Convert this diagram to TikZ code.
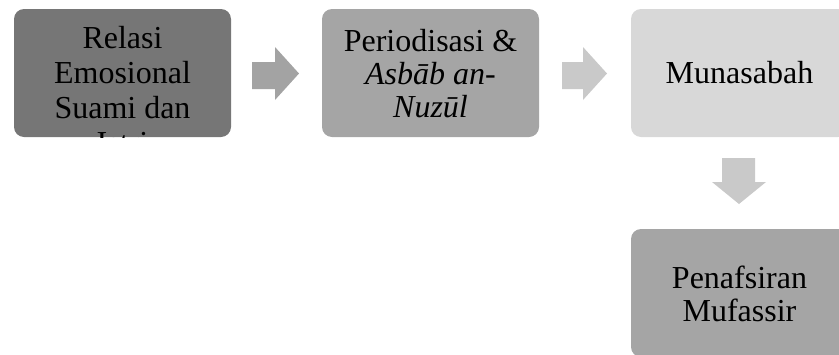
\documentclass[tikz,border=0pt]{standalone}
\usepackage{fontspec}
\setmainfont{Liberation Serif}
\usetikzlibrary{positioning}

\definecolor{tahapA}{HTML}{767676}
\definecolor{tahapB}{HTML}{A5A5A5}
\definecolor{tahapC}{HTML}{D8D8D8}
\definecolor{panahA}{HTML}{A3A3A3}
\definecolor{panahB}{HTML}{C9C9C9}

\tikzset{
  tahap/.style={rounded corners=10pt, minimum width=217pt, minimum height=128pt, inner sep=0pt},
  teks/.style={align=center, inner sep=0pt, font=\fontsize{32}{33}\selectfont},
}

\begin{document}
\begin{tikzpicture}[x=1pt,y=-1pt]
\useasboundingbox (0,0) rectangle (839,354);
\clip (0,0) rectangle (839,354);
% kotak tahapan
\node[tahap, fill=tahapA] (relasi) at (122.5,73) {};
\node[tahap, fill=tahapB] (periode) at (430.5,73) {};
\node[tahap, fill=tahapC] (munasabah) at (739.5,73) {};
\node[tahap, fill=tahapB] (tafsir) at (739.5,293) {};
% teks kotak pertama terpotong di tepi bawah
\begin{scope}
\clip[rounded corners=10pt] (relasi.south west) rectangle (relasi.north east);
\node[teks, anchor=north, font=\fontsize{32}{35}\selectfont] (relasiteks) at (122.5,26) {Relasi\\Emosional\\Suami dan\\Istri};
\end{scope}
\node[teks, anchor=north] (periodeteks) at (430.5,29) {Periodisasi \&\\\textit{Asbāb an-}\\\textit{Nuzūl}};
\node[teks] (munasabahteks) at (munasabah) {Munasabah};
\node[teks, anchor=north] (tafsirteks) at (739.5,266) {Penafsiran\\Mufassir};
% panah blok
\fill[panahA] (252,62) -- (275,62) -- (275,47) -- (299,73.5) -- (275,100) -- (275,89) -- (252,89) -- cycle;
\fill[panahB] (562,62) -- (583,62) -- (583,47) -- (607,73.5) -- (583,100) -- (583,89) -- (562,89) -- cycle;
\fill[panahB] (722,158) -- (755,158) -- (755,182) -- (766,182) -- (739,204) -- (712,182) -- (722,182) -- cycle;
\end{tikzpicture}
\end{document}
